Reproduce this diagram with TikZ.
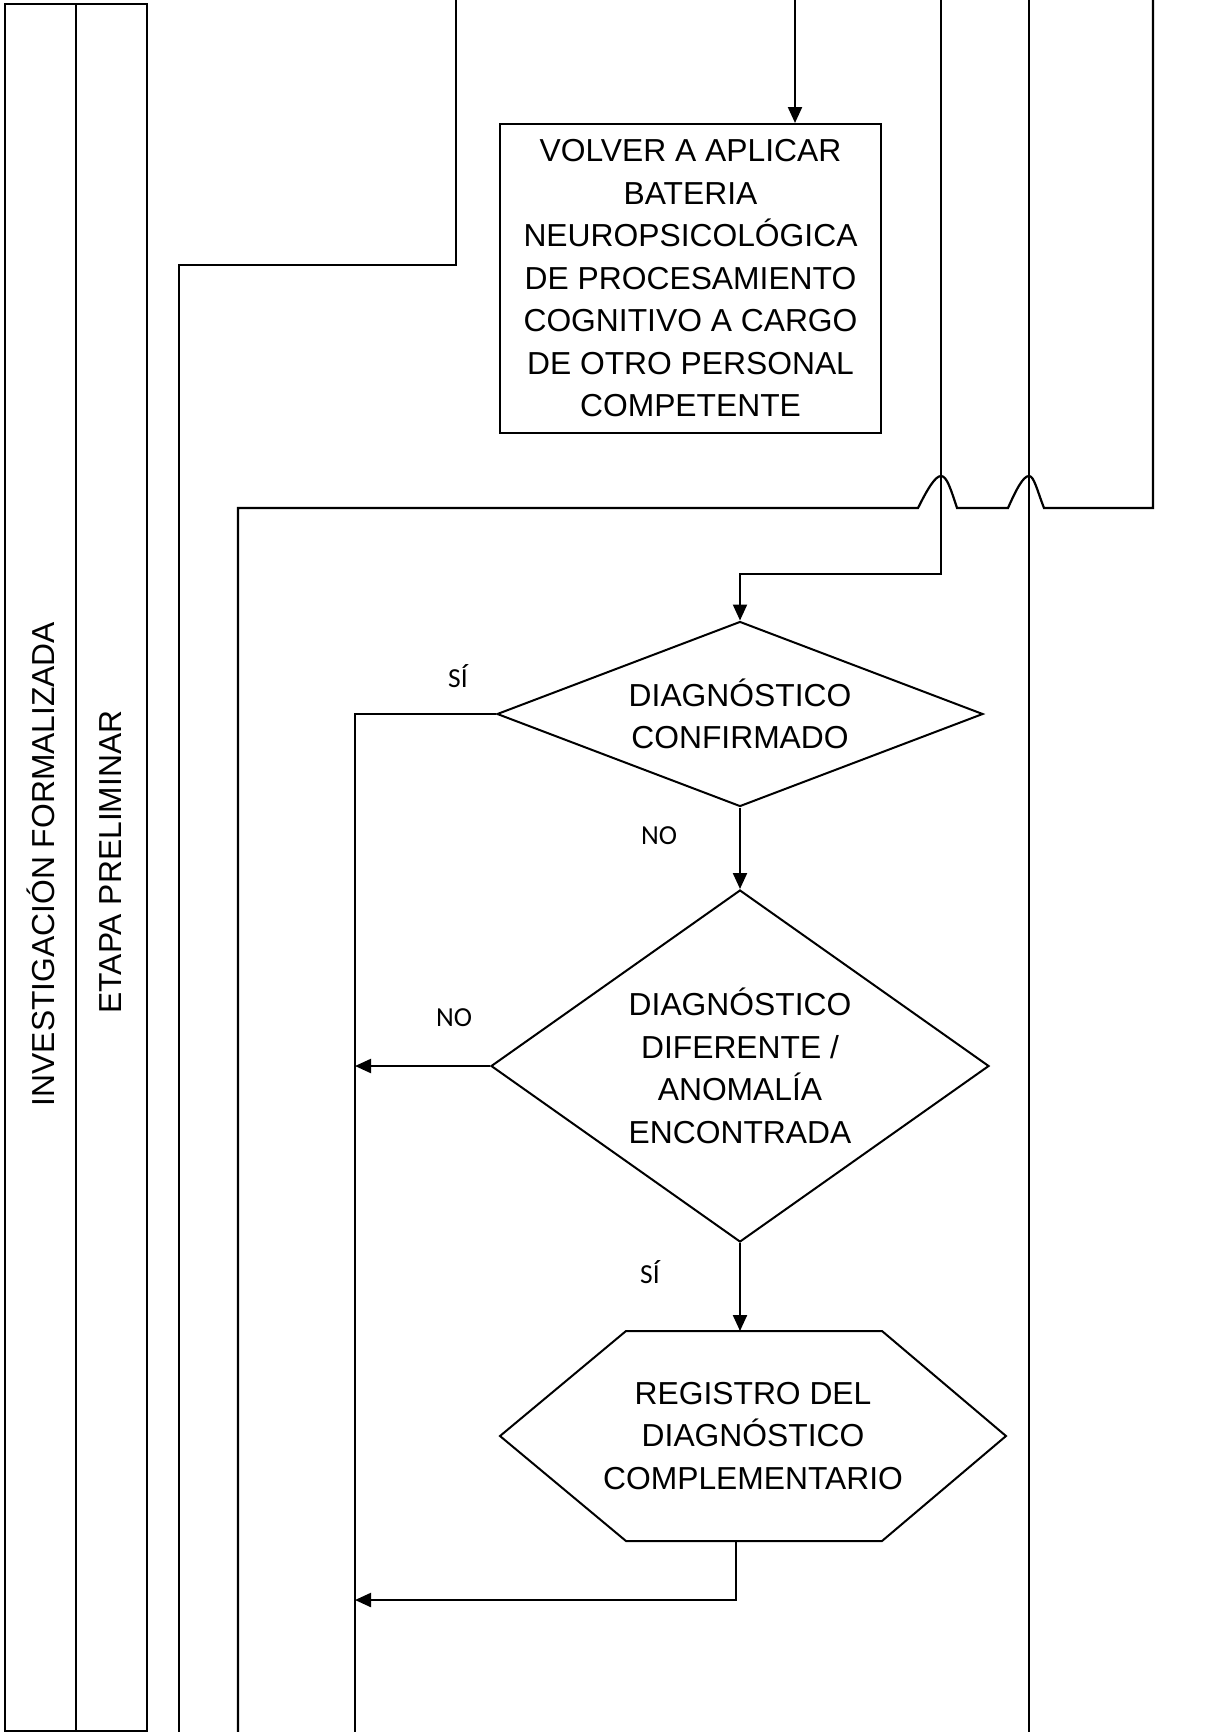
\documentclass[tikz,border=0pt]{standalone}
\usepackage{fontspec}
\setmainfont{Liberation Sans}
\newfontfamily\calib{Carlito}
\usetikzlibrary{shapes.geometric,arrows.meta}
\begin{document}
\begin{tikzpicture}[x=1pt,y=-1pt,
  ln/.style={line width=2.2pt},
  arr/.style={line width=2.2pt,-{Triangle[length=16pt,width=14pt]}},
  shp/.style={draw,line width=2pt,inner sep=0pt,align=center,font=\fontsize{31.8}{42.5}\selectfont},
  lbl/.style={font=\calib\fontsize{27.5}{30}\selectfont,inner sep=0pt},
  lane/.style={rotate=90,font=\fontsize{31.8}{38}\selectfont,inner sep=0pt}]
\useasboundingbox (0,0) rectangle (1209,1732);
% lanes
\draw[line width=2pt] (5,4) rectangle (147,1731);
\draw[line width=2pt] (76,4) -- (76,1731);
\node[lane] (l1) at (40.5,864) {INVESTIGACIÓN FORMALIZADA};
\node[lane] (l2) at (111,862) {ETAPA PRELIMINAR};
% shapes
\node[shp,minimum width=381pt,minimum height=309pt] (box) at (690.5,278.5)
  {VOLVER A APLICAR\\BATERIA\\NEUROPSICOLÓGICA\\DE PROCESAMIENTO\\COGNITIVO A CARGO\\DE OTRO PERSONAL\\COMPETENTE};
\node[shp,diamond,aspect=2.63,minimum width=486pt,minimum height=185pt] (d1) at (740,714)
  {DIAGNÓSTICO\\CONFIRMADO};
\node[shp,diamond,aspect=1.42,minimum width=498pt,minimum height=352pt] (d2) at (740,1066)
  {DIAGNÓSTICO\\DIFERENTE /\\ANOMALÍA\\ENCONTRADA};
\draw[line width=2pt] (500,1436) -- (626,1331) -- (882,1331) -- (1006,1436) -- (882,1541) -- (626,1541) -- cycle;
\node[align=center,inner sep=0pt,font=\fontsize{31.8}{42.5}\selectfont] (hex) at (753,1436)
  {REGISTRO DEL\\DIAGNÓSTICO\\COMPLEMENTARIO};
\coordinate (hexTop) at (740,1331);
\coordinate (hexBot) at (736,1541);
% coordinates for free ends
\coordinate (topA) at (456,0);
\coordinate (kA) at (179,265);
\coordinate (botA) at (179,1732);
\coordinate (topB) at (795,0);
\coordinate (topC) at (941,0);
\coordinate (kC) at (941,574);
\coordinate (topD) at (1029,0);
\coordinate (botD) at (1029,1732);
\coordinate (topE) at (1153,0);
\coordinate (kE) at (1153,508);
\coordinate (kF) at (238,508);
\coordinate (botF) at (238,1732);
\coordinate (botG) at (355,1732);
\coordinate (kH) at (355,1600);
% connectors
\draw[ln] (topA) |- (kA) -- (botA);
\draw[arr] (topB) -- (topB |- box.north);
\draw[arr] (topC) |- (d1.north |- kC) -- (d1.north);
\draw[ln] (topD) -- (botD);
\draw[ln] (topE) -- (kE) -- (1044,508)
  .. controls (1037,490) and (1034,476) .. (1029,476)
  .. controls (1023,476) and (1016,490) .. (1008,508)
  -- (957,508)
  .. controls (951,490) and (947,476) .. (941,476)
  .. controls (935,476) and (927,490) .. (918,508)
  -- (kF) -- (botF);
\draw[ln] (d1.west) -| (botG);
\draw[arr] (d1.south) -- (d2.north);
\draw[arr] (d2.west) -- (d2.west -| botG);
\draw[arr] (d2.south) -- (hexTop);
\draw[arr] (hexBot) |- (kH);
% labels
\node[lbl] (s1) at (458,676) {SÍ};
\node[lbl] (n1) at (659,836) {NO};
\node[lbl] (n2) at (454,1018) {NO};
\node[lbl] (s2) at (650,1272) {SÍ};
\end{tikzpicture}
\end{document}
